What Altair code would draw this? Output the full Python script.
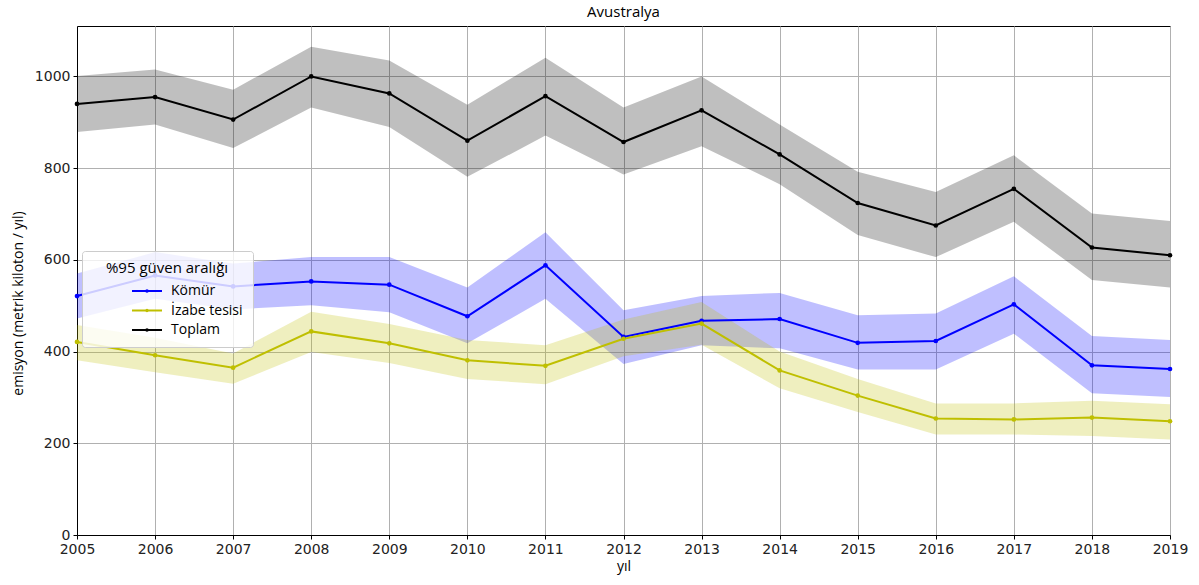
import altair as alt
import pandas as pd

# Years on the x axis
years = list(range(2005, 2020))

# Coal (Kömür): mean and 95% interval bounds, kilotons / year
komur = [521, 566, 542, 553, 546, 477, 588, 432, 467, 471, 419, 423, 503, 370, 362]
komur_lo = [472, 515, 492, 501, 486, 418, 515, 373, 414, 407, 361, 361, 439, 309, 301]
komur_hi = [570, 617, 592, 606, 606, 540, 660, 490, 521, 528, 479, 483, 564, 434, 425]

# Smelter (İzabe tesisi)
izabe = [421, 392, 365, 444, 418, 381, 369, 428, 461, 359, 304, 254, 252, 256, 248]
izabe_lo = [381, 355, 330, 399, 375, 340, 329, 390, 415, 320, 268, 219, 219, 216, 208]
izabe_hi = [458, 430, 396, 487, 460, 425, 414, 470, 508, 400, 340, 287, 287, 293, 285]

# Total (Toplam)
toplam = [940, 955, 906, 1000, 963, 860, 957, 857, 926, 830, 724, 675, 755, 627, 610]
toplam_lo = [879, 895, 844, 932, 890, 781, 871, 786, 848, 765, 654, 606, 683, 556, 540]
toplam_hi = [1001, 1015, 971, 1065, 1035, 938, 1041, 932, 1000, 895, 792, 748, 828, 701, 685]

series_names = ["Kömür", "İzabe tesisi", "Toplam"]
series_colors = ["#0000ff", "#bfbf00", "#000000"]

rows = []
for name, mean, lo, hi in [
    ("Kömür", komur, komur_lo, komur_hi),
    ("İzabe tesisi", izabe, izabe_lo, izabe_hi),
    ("Toplam", toplam, toplam_lo, toplam_hi),
]:
    for y, m, l, h in zip(years, mean, lo, hi):
        rows.append({"yil": y, "seri": name, "bant": name, "deger": m, "alt": l, "ust": h})
df = pd.DataFrame(rows)

# Legend glyph: a short line with a small ring (drawn as a dot) in the middle
line_dot = "M-1.5,0L1.5,0M0.08,0A0.08,0.08 0 1,1 -0.08,0A0.08,0.08 0 1,1 0.08,0Z"

legend = alt.Legend(
    title="%95 güven aralığı",
    orient="none",
    legendX=5,
    legendY=225,
    titleAnchor="middle",
    titleFont="Open Sans",
    titleFontSize=15,
    titleFontWeight="normal",
    titleColor="#000000",
    titlePadding=4,
    labelFont="Open Sans",
    labelFontSize=14,
    labelColor="#000000",
    labelOffset=13,
    symbolType=line_dot,
    symbolSize=400,
    symbolStrokeWidth=2,
    symbolOpacity=1,
    symbolOffset=44,
    rowPadding=1.5,
    fillColor="rgba(255,255,255,0.8)",
    strokeColor="#cccccc",
    padding=10,
    cornerRadius=3,
    offset=0,
)
series_scale = alt.Scale(domain=series_names, range=series_colors)
color = alt.Color("seri:N", scale=series_scale, sort=series_names, legend=legend)

x = alt.X(
    "yil:Q",
    title="yıl",
    scale=alt.Scale(domain=[2005, 2019], nice=False, zero=False),
    axis=alt.Axis(values=years, format="d", labelFlush=False),
)
y = alt.Y(
    "deger:Q",
    title="emisyon (metrik kiloton / yıl)",
    scale=alt.Scale(domain=[0, 1110], nice=False),
    axis=alt.Axis(values=[0, 200, 400, 600, 800, 1000], format="d", titleX=-59, titleY=277),
)

base = alt.Chart(df)

# 95% interval bands, coloured through their own field so they stay out of the legend
bands = base.mark_area(opacity=0.25).encode(
    x=x,
    y=alt.Y("alt:Q"),
    y2="ust:Q",
    fill=alt.Fill("bant:N", scale=series_scale, legend=None),
    detail="bant:N",
)

lines = base.mark_line(strokeWidth=2).encode(x=x, y=y, color=color)
points = base.mark_circle(size=22, opacity=1).encode(
    x=x, y=y, fill=alt.Fill("bant:N", scale=series_scale, legend=None)
)

chart = (
    alt.layer(bands, lines, points)
    .resolve_scale(fill="independent", color="independent")
    .resolve_legend(fill="independent", color="independent")
    .properties(
        width=1093,
        height=509,
        title=alt.TitleParams("Avustralya", font="Open Sans", fontSize=15, fontWeight="normal", color="#000000", offset=6),
        autosize=alt.AutoSizeParams(type="none"),
        padding={"left": 77, "top": 26, "right": 29, "bottom": 50},
    )
    .configure_view(stroke="#000000", strokeWidth=1)
    .configure_axis(
        grid=True,
        gridColor="#b0b0b0",
        gridWidth=1,
        domainColor="#000000",
        tickColor="#000000",
        tickSize=4,
        labelFont="DejaVu Sans",
        labelFontSize=14,
        labelColor="#222222",
        labelPadding=3,
        titleFont="Open Sans",
        titleFontSize=14,
        titleFontWeight="normal",
        titleColor="#000000",
    )
    .configure_axisY(titleAngle=270, titleBaseline="middle", titleAlign="center")
    .configure_axisX(titlePadding=3)
)

chart.save("out.html", embed_options={"renderer": "svg", "actions": False})
